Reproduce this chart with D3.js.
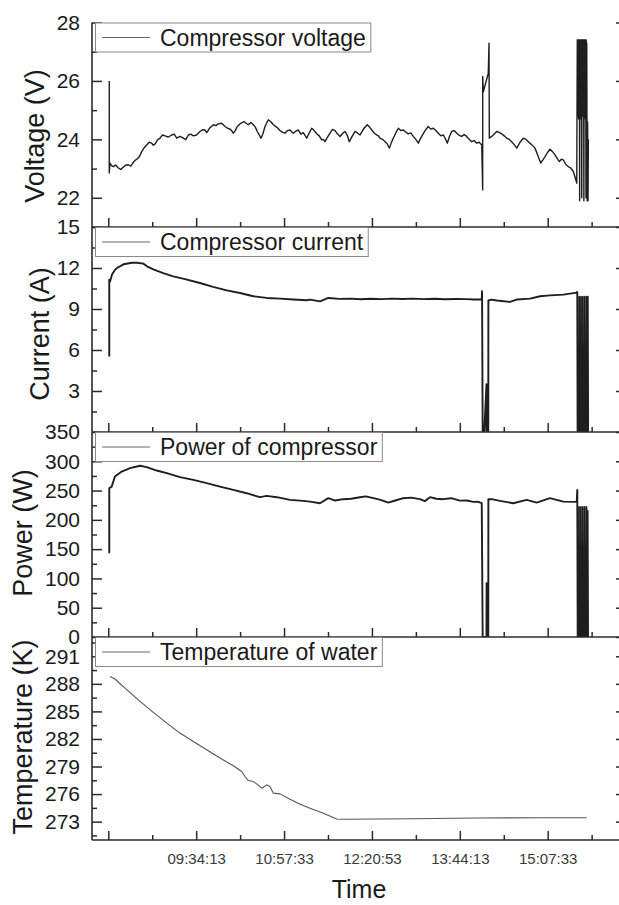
<!DOCTYPE html>
<html><head><meta charset="utf-8">
<script src="https://cdn.jsdelivr.net/npm/d3@7"></script>
<style>body{margin:0;background:#fff}svg{display:block}text{font-family:"Liberation Sans",Arial,sans-serif}</style>
</head><body><svg id="c" width="619" height="905"></svg>
<script>
// ---- data: [minutes after 08:00:00, value] ----
const voltage = [[11.8,26.0],[11.8,22.85],[12.5,23.19],[14.0,23.10],[15.6,23.07],[18.0,23.12],[20.4,23.02],[22.8,22.97],[25.1,23.05],[27.5,23.12],[29.9,23.13],[32.2,23.08],[34.6,23.21],[36.2,23.28],[37.8,23.32],[40.2,23.40],[42.6,23.58],[45.0,23.72],[47.3,23.81],[49.6,23.90],[52.0,23.87],[53.6,23.80],[55.2,23.84],[57.5,23.98],[59.9,24.04],[62.3,24.15],[64.7,24.12],[67.8,24.08],[71.0,24.15],[73.4,24.18],[75.8,24.04],[78.9,24.10],[82.0,24.04],[84.4,23.99],[86.8,24.15],[89.2,24.18],[91.5,24.12],[94.6,24.15],[97.8,24.27],[100.2,24.33],[102.6,24.32],[104.2,24.23],[107.3,24.40],[110.5,24.50],[112.8,24.47],[115.2,24.53],[118.4,24.55],[121.6,24.44],[124.0,24.38],[126.3,24.35],[127.8,24.30],[129.4,24.21],[131.3,24.30],[133.2,24.44],[136.4,24.55],[139.6,24.61],[141.6,24.55],[143.6,24.50],[146.0,24.58],[148.4,24.50],[150.3,24.42],[152.2,24.27],[154.0,24.15],[155.7,24.04],[157.6,24.20],[159.5,24.44],[161.0,24.56],[162.6,24.67],[165.0,24.60],[167.4,24.50],[170.5,24.42],[173.7,24.30],[176.0,24.25],[178.4,24.21],[180.8,24.30],[183.2,24.32],[184.8,24.26],[186.3,24.21],[188.7,24.28],[191.1,24.32],[193.5,24.18],[195.8,24.23],[197.4,24.14],[199.0,24.04],[201.4,24.22],[203.8,24.38],[206.1,24.30],[208.5,24.19],[210.9,24.12],[213.3,23.98],[214.9,24.00],[216.4,23.92],[218.8,24.08],[221.1,24.21],[223.5,24.34],[225.9,24.30],[228.3,24.18],[230.6,24.10],[233.0,24.20],[235.3,24.27],[237.4,24.15],[239.4,23.92],[242.1,24.10],[244.8,24.27],[247.2,24.22],[249.6,24.15],[253.0,24.36],[256.5,24.50],[258.6,24.42],[260.7,24.32],[263.0,24.22],[265.4,24.15],[267.0,24.12],[268.5,24.04],[270.9,24.00],[273.3,23.92],[275.3,23.85],[277.4,23.70],[279.2,23.88],[281.1,24.04],[283.5,24.22],[285.9,24.38],[288.2,24.30],[290.6,24.32],[293.0,24.25],[295.4,24.19],[297.7,24.22],[300.1,24.10],[302.5,24.00],[304.9,23.87],[306.5,24.00],[308.1,24.10],[311.2,24.30],[314.3,24.44],[316.7,24.35],[319.1,24.38],[321.5,24.30],[323.8,24.21],[326.2,24.12],[328.6,24.15],[330.5,24.02],[332.4,23.87],[334.4,24.10],[336.5,24.27],[338.9,24.30],[341.3,24.21],[343.6,24.14],[346.0,24.10],[348.4,24.16],[350.7,24.10],[353.1,24.00],[355.5,23.92],[357.8,23.96],[360.2,23.87],[362.6,23.90],[365.0,23.81],[365.9,22.27],[365.9,26.15],[366.5,25.63],[371.2,26.26],[371.9,27.29],[372.2,24.04],[374.5,24.10],[376.8,24.18],[379.2,24.27],[381.5,24.24],[383.9,24.19],[386.3,24.12],[388.7,24.04],[391.0,24.00],[393.4,23.92],[395.8,23.82],[398.2,23.70],[401.3,23.90],[404.4,24.04],[406.8,24.00],[409.2,23.92],[412.3,23.82],[415.5,23.70],[418.2,23.45],[420.9,23.19],[423.0,23.30],[425.0,23.41],[427.4,23.55],[429.7,23.66],[432.1,23.58],[434.5,23.47],[436.5,23.35],[438.6,23.24],[440.5,23.32],[442.4,23.30],[444.7,23.14],[447.1,23.07],[449.4,23.02],[451.8,22.90],[453.4,22.72],[455.1,22.50],[455.6,27.4],[455.85,24.8],[456.1,27.4],[456.35,24.8],[456.6,27.4],[456.85,24.7],[457.1,27.4],[457.35,24.8],[457.6,27.4],[457.85,21.9],[458.1,27.4],[458.35,24.8],[458.6,27.4],[458.85,24.8],[459.1,27.4],[459.35,24.7],[459.6,27.4],[459.85,22.0],[460.1,27.4],[460.35,24.8],[460.6,27.4],[460.85,24.8],[461.1,27.4],[461.35,24.8],[461.6,27.4],[461.85,21.9],[462.1,27.4],[462.35,24.8],[462.6,27.4],[462.85,24.8],[463.1,27.4],[463.35,24.7],[463.6,27.4],[463.85,22.0],[464.1,27.4],[464.35,24.8],[464.6,27.3],[465.0,21.9],[465.4,24.6],[465.8,21.9],[466.1,24.0]];

const current = [[11.8,5.52],[11.8,11.15],[12.5,11.0],[14.4,11.52],[17.2,11.86],[19.1,12.0],[25.3,12.27],[33.4,12.38],[38.1,12.38],[44.1,12.32],[47.6,12.12],[53.6,11.9],[63.0,11.63],[72.5,11.39],[83.6,11.19],[97.8,10.9],[110.2,10.62],[123.2,10.36],[135.8,10.17],[148.4,9.93],[161.1,9.81],[173.7,9.76],[186.3,9.69],[199.0,9.64],[202.2,9.69],[211.6,9.56],[219.5,9.81],[230,9.74],[240,9.76],[250,9.71],[260,9.75],[270,9.72],[280,9.76],[290,9.73],[300,9.76],[310,9.72],[320,9.75],[330,9.71],[340,9.73],[350,9.72],[358,9.69],[365.0,9.69],[365.3,10.3],[365.9,0.0],[367.5,0.1],[369.5,3.5],[369.6,0.0],[371.2,0.0],[371.3,9.62],[374.5,9.69],[379.2,9.62],[391.8,9.52],[398.2,9.69],[410.8,9.76],[420.4,9.93],[429.8,10.0],[442.4,10.05],[455.1,10.2],[455.6,10.25],[455.9,0],[456.15,9.9],[456.4,0],[456.65,6.3],[456.9,0],[457.15,6.3],[457.4,0],[457.65,6.3],[457.9,0],[458.15,9.9],[458.4,0],[458.65,6.3],[458.9,0],[459.15,6.3],[459.4,0],[459.65,6.3],[459.9,0],[460.15,9.9],[460.4,0],[460.65,6.3],[460.9,0],[461.15,6.3],[461.4,0],[461.65,6.3],[461.9,0],[462.15,9.9],[462.4,0],[462.65,6.3],[462.9,0],[463.15,6.3],[463.4,0],[463.65,6.3],[463.9,0],[464.15,9.9],[464.4,0],[464.65,6.3],[464.9,0],[465.5,9.9],[465.9,0]];

const power = [[11.8,142.8],[11.8,254],[14.1,256.8],[17.2,274],[23.6,282.5],[31.5,288.4],[41.0,292.3],[47.3,290],[56.8,284.2],[66.3,279.8],[78.9,273],[91.5,268.3],[104.2,262.7],[116.8,256.8],[129.4,251.2],[142.1,245.5],[154.7,238.7],[161.1,240.9],[170.6,238.7],[183.2,234.1],[195.8,232.4],[202.2,231.2],[211.6,228.4],[219.5,237],[226,233],[233.7,235.3],[241,236],[249.6,238.7],[255,240],[262.2,237],[269,234],[276.4,229.5],[283,233],[290.6,237],[298,238],[306.5,235.3],[311,232],[316.0,238.7],[322,236],[328.6,235.3],[336,237],[344.4,232.9],[351,233],[357.0,230.7],[361,231],[365.0,228.4],[365.9,0],[369.5,0],[369.6,92],[369.7,0],[371.2,0],[371.3,235.3],[374.5,235.3],[382.3,232.4],[394.9,228.4],[407.6,234.1],[417.1,229.5],[429.7,237],[442.4,231.2],[455.1,230.7],[455.6,251],[456.0,0],[456.25,222],[456.5,0],[456.75,154],[457.0,0],[457.25,154],[457.5,0],[457.75,154],[458.0,0],[458.25,222],[458.5,0],[458.75,154],[459.0,0],[459.25,154],[459.5,0],[459.75,154],[460.0,0],[460.25,222],[460.5,0],[460.75,154],[461.0,0],[461.25,154],[461.5,0],[461.75,154],[462.0,0],[462.25,222],[462.5,0],[462.75,154],[463.0,0],[463.25,154],[463.5,0],[463.75,154],[464.0,0],[464.25,222],[464.5,0],[464.75,154],[465.0,0],[465.4,215],[465.8,0]];

const temperature = [[12.5,288.8],[17.2,288.53],[28.3,287.37],[41.0,286.09],[53.6,284.89],[66.3,283.73],[78.9,282.64],[91.5,281.73],[104.2,280.82],[116.8,279.92],[129.4,279.08],[137.4,278.45],[140.5,277.91],[143.6,277.47],[148.4,277.36],[151.6,277.11],[156.4,276.64],[161.1,277.0],[164.2,276.82],[167.4,276.1],[173.7,276.02],[183.2,275.44],[192.7,274.9],[202.2,274.46],[214.8,273.92],[227.5,273.29],[233.7,273.26],[300,273.32],[360,273.40],[420,273.42],[464.5,273.42]];

const voltTicks = [22,24,26,28], voltMinor = [21,23,25,27];
const currTicks = [3,6,9,12,15], currMinor = [1.5,4.5,7.5,10.5,13.5];
const powTicks = [0,50,100,150,200,250,300,350], powMinor = [25,75,125,175,225,275,325];
const tempTicks = [273,276,279,282,285,288,291], tempMinor = [271.5,274.5,277.5,280.5,283.5,286.5,289.5,292.5];
const timeTicks = ["08:10:53","09:34:13","10:57:33","12:20:53","13:44:13","15:07:33"];
const timeTickLabels = ["","09:34:13","10:57:33","12:20:53","13:44:13","15:07:33"];
const timeMinor = ["08:52:33","10:15:53","11:39:13","13:02:33","14:25:53","15:49:13"];
const legendNames = ["Compressor voltage","Compressor current","Power of compressor","Temperature of water"];
const axisTitles = ["Voltage (V)","Current (A)","Power (W)","Temperature (K)"];

// ---- layout ----
const svg = d3.select("#c");
const L = 92, R = 626;
const tops = [22.5, 227, 432, 637], bottoms = [227, 432, 637, 840];
const toSec = m => 28800 + m*60;
const clock = s => { const [h,m,x] = s.split(":").map(Number); return h*3600 + m*60 + x; };
const x = d3.scaleLinear().domain([28526, 58908]).range([L, R]);
const ink = "#2b2b2b";

const panels = [
  {data: voltage, domain:[21,28], ticks: voltTicks, minor: voltMinor, titleX: 44, titleY: 136, lw: 1.4, color:"#1e1e1e"},
  {data: current, domain:[0,15], ticks: currTicks, minor: currMinor, titleX: 49, titleY: 334, lw: 1.9, color:"#1e1e1e"},
  {data: power, domain:[0,350], ticks: powTicks, minor: powMinor, titleX: 32, titleY: 533, lw: 1.9, color:"#1e1e1e"},
  {data: temperature, domain:[271,293.1], ticks: tempTicks, minor: tempMinor, titleX: 32, titleY: 737, lw: 1.1, color:"#555"}
];

panels.forEach((p, i) => {
  const y = d3.scaleLinear().domain(p.domain).range([bottoms[i], tops[i]]);
  const clipId = "clip" + i;
  svg.append("clipPath").attr("id", clipId).append("rect")
    .attr("x", L).attr("y", tops[i]).attr("width", R - L).attr("height", bottoms[i] - tops[i]);

  svg.append("path").datum(p.data)
    .attr("clip-path", `url(#${clipId})`)
    .attr("fill", "none").attr("stroke", p.color).attr("stroke-width", p.lw)
    .attr("stroke-linejoin", "round")
    .attr("d", d3.line().x(d => x(toSec(d[0]))).y(d => y(d[1])));

  const gl = svg.append("g").attr("transform", `translate(${L},0)`)
    .call(d3.axisLeft(y).tickValues(p.ticks).tickSize(-10).tickPadding(12).tickFormat(d3.format("d")));
  const glm = svg.append("g").attr("transform", `translate(${L},0)`)
    .call(d3.axisLeft(y).tickValues(p.minor).tickSize(-5).tickFormat(""));
  const gr = svg.append("g").attr("transform", `translate(${R},0)`)
    .call(d3.axisRight(y).tickValues(p.ticks).tickSize(-10).tickFormat(""));
  const last = i === panels.length - 1;
  const gb = svg.append("g").attr("transform", `translate(0,${bottoms[i]})`)
    .call(d3.axisBottom(x).tickValues(timeTicks.map(clock)).tickSize(-9).tickPadding(13)
      .tickFormat((d, k) => last ? timeTickLabels[k] : ""));
  const gbm = svg.append("g").attr("transform", `translate(0,${bottoms[i]})`)
    .call(d3.axisBottom(x).tickValues(timeMinor.map(clock)).tickSize(-5).tickFormat(""));

  [gl, glm, gr, gb, gbm].forEach(g => {
    g.select(".domain").remove();
    g.selectAll(".tick line").attr("stroke", ink).attr("stroke-width", 1.5);
  });
  gl.selectAll("text").attr("font-size", 21).attr("fill", "#1a1a1a");
  gb.selectAll("text").attr("font-size", 15).attr("fill", "#3a3a3a");

  svg.append("line").attr("x1", L).attr("x2", R).attr("y1", bottoms[i]).attr("y2", bottoms[i])
    .attr("stroke", ink).attr("stroke-width", 1.6);

  const lg = svg.append("g");
  const box = lg.append("rect").attr("x", 95.5).attr("y", tops[i] + 0.5).attr("height", 29)
    .attr("fill", "#fff").attr("stroke", "#8a8a8a").attr("stroke-width", 1);
  lg.append("line").attr("x1", 102).attr("x2", 150).attr("y1", tops[i] + 15).attr("y2", tops[i] + 15)
    .attr("stroke", "#6a6a6a").attr("stroke-width", 1.2);
  const t = lg.append("text").attr("x", 160).attr("y", tops[i] + 23).attr("font-size", 23)
    .attr("fill", "#1a1a1a").text(legendNames[i]);
  box.attr("width", 160 + t.node().getComputedTextLength() + 5 - 95.5);

  svg.append("text").attr("transform", `translate(${p.titleX},${p.titleY}) rotate(-90)`)
    .attr("text-anchor", "middle").attr("font-size", 27).attr("fill", "#1a1a1a").text(axisTitles[i]);
});

svg.append("line").attr("x1", L).attr("x2", L).attr("y1", tops[0]).attr("y2", bottoms[3])
  .attr("stroke", ink).attr("stroke-width", 1.6);

svg.append("text").attr("x", (L + R) / 2).attr("y", 898).attr("text-anchor", "middle")
  .attr("font-size", 25).attr("fill", "#1a1a1a").text("Time");
</script></body></html>
